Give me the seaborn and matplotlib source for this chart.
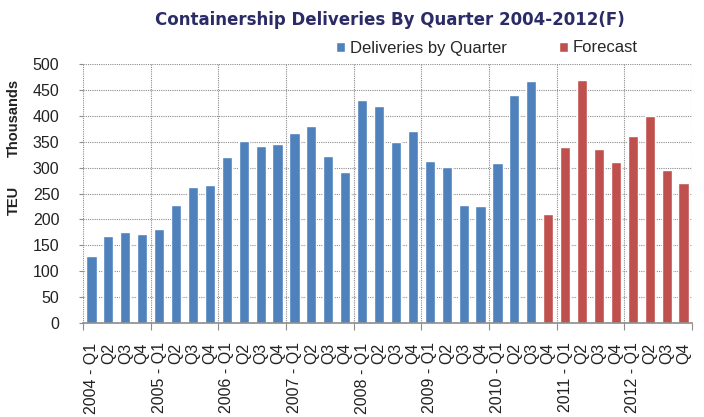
import numpy as np
import pandas as pd
import matplotlib
matplotlib.use("Agg")
import matplotlib.pyplot as plt
import seaborn as sns
from matplotlib.ticker import FixedLocator, MultipleLocator

# Quarterly containership deliveries, thousand TEU
years = [2004, 2005, 2006, 2007, 2008, 2009, 2010, 2011, 2012]
quarters = ["Q1", "Q2", "Q3", "Q4"]
actual_teu = [130, 168, 176, 172,
              182, 228, 262, 266,
              320, 351, 342, 346,
              367, 380, 322, 291,
              430, 419, 349, 371,
              313, 302, 228, 226,
              308, 441, 468]
forecast_teu = [210,
                339, 470, 335, 310,
                361, 400, 295, 270]
series_names = ["Deliveries by Quarter", "Forecast"]
series_colors = ["#4F81BD", "#C0504D"]

periods = [f"{y} - {q}" for y in years for q in quarters]
tick_labels = [p if p.endswith("Q1") else p[-2:] for p in periods]

df = pd.DataFrame({
    "period": periods,
    "teu": actual_teu + forecast_teu,
    "series": [series_names[0]] * len(actual_teu) + [series_names[1]] * len(forecast_teu),
})

sns.set_theme(style="white")
plt.rcParams["font.family"] = ["Liberation Sans", "DejaVu Sans"]

W, H = 704, 417
fig = plt.figure(figsize=(W / 100, H / 100), dpi=100)
left, right, top, bottom = 83, 692, 64, 323
ax = fig.add_axes([left / W, 1 - bottom / H, (right - left) / W, (bottom - top) / H])

sns.barplot(data=df, x="period", y="teu", hue="series", order=periods,
            hue_order=series_names, palette=series_colors, dodge=False,
            width=0.6, saturation=1, ax=ax)

handles, labels = ax.get_legend_handles_labels()
ax.get_legend().remove()

ax.set_xlim(-0.5, len(periods) - 0.5)
ax.set_ylim(0, 500)
ax.yaxis.set_major_locator(MultipleLocator(50))
ax.set_xlabel("")
ax.set_ylabel("")

grid_color = "#8C8C8C"
ax.set_xticks(range(len(periods)))
ax.set_xticklabels(tick_labels, rotation=90, fontsize=11.5, color="#222222")
ax.xaxis.set_minor_locator(FixedLocator(np.arange(-0.5, len(periods), 4)))
ax.tick_params(axis="x", which="major", length=0, pad=14)
ax.tick_params(axis="x", which="minor", length=5, width=0.8, color=grid_color, bottom=True)
ax.tick_params(axis="y", which="major", length=3, width=0.8, color=grid_color,
               left=True, labelsize=11.5, labelcolor="#222222", pad=14)

ax.grid(False)
ax.grid(True, which="major", axis="y", color=grid_color, linestyle=(0, (1, 1)), linewidth=0.8)
ax.grid(True, which="minor", axis="x", color=grid_color, linestyle=(0, (1, 1)), linewidth=0.8)
ax.set_axisbelow(True)

for side in ("top", "right", "left"):
    ax.spines[side].set_visible(False)
ax.spines["bottom"].set_color(grid_color)
ax.spines["bottom"].set_linewidth(1.2)

fig.text(390 / W, 1 - 20 / H, "Containership Deliveries By Quarter 2004-2012(F)",
         ha="center", va="center", fontsize=12, fontweight="bold",
         color="#2B2B66", family=["DejaVu Sans"])

fig.legend(handles, labels, loc="center", bbox_to_anchor=(487 / W, 1 - 48 / H),
           ncol=2, frameon=False, fontsize=12, handlelength=0.55, handleheight=0.55,
           handletextpad=0.3, columnspacing=3.1)

fig.text(14 / W, 1 - 200 / H, "TEU", rotation=90, ha="center", va="center",
         fontsize=10.5, fontweight="bold", color="#222222")
fig.text(14 / W, 1 - 118 / H, "Thousands", rotation=90, ha="center", va="center",
         fontsize=10.5, fontweight="bold", color="#222222")

fig.savefig("out.png", dpi=100)
